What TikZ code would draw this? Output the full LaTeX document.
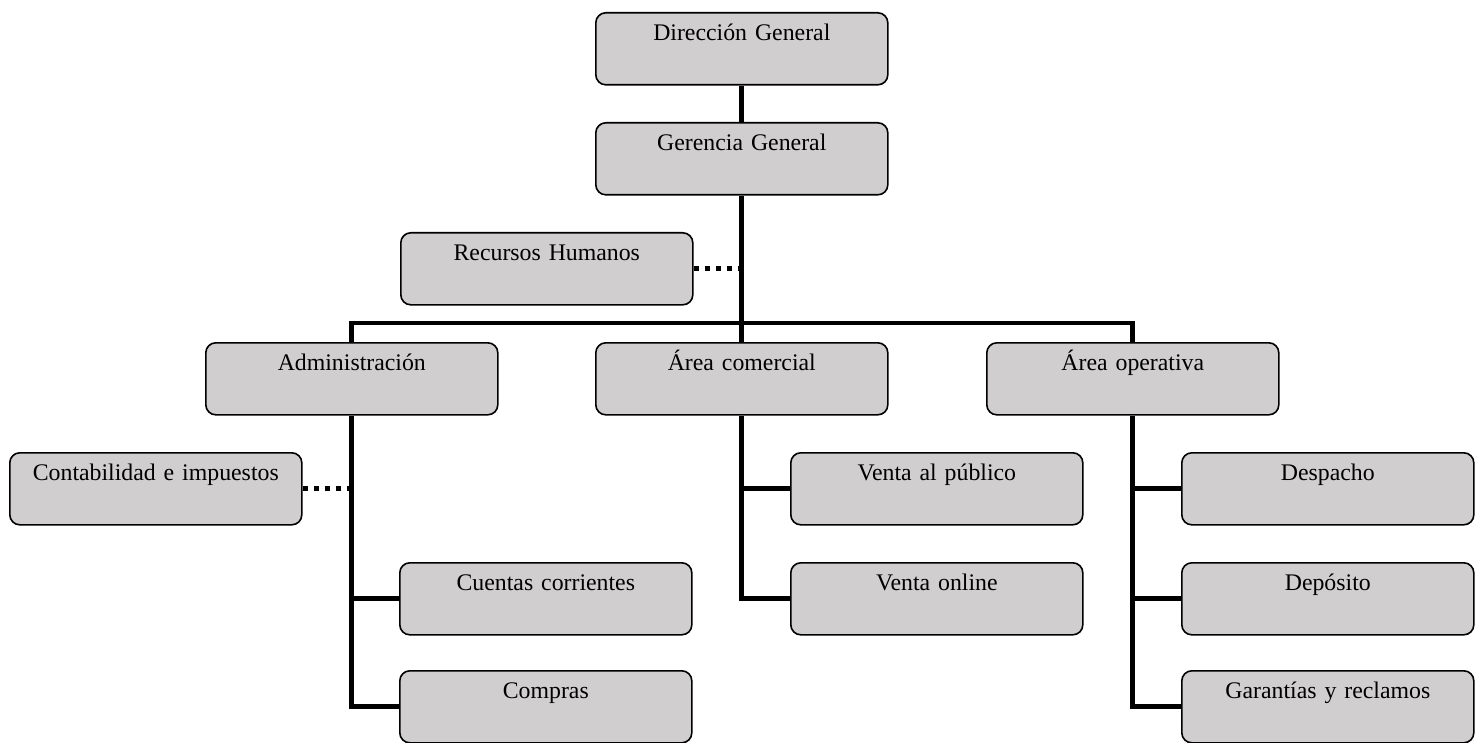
\documentclass[tikz,border=0pt]{standalone}
\usepackage{fontspec}
\setmainfont{Liberation Serif}
\usetikzlibrary{calc}
\begin{document}
\begin{tikzpicture}[x=1pt,y=-1pt,
  orgbox/.style={draw=black, line width=1.6pt, fill=boxgray, rounded corners=10pt,
    anchor=north west, inner sep=0pt, text width=292pt, align=center,
    text height=27.5pt, text depth=44.5pt, font=\fontsize{23.8}{28}\selectfont},
  conn/.style={line width=4.8pt, line join=miter, line cap=butt},
  dotconn/.style={line width=5pt, line cap=butt, dash pattern=on 5pt off 6pt}]
\definecolor{boxgray}{RGB}{208,206,207}
\useasboundingbox (0,0) rectangle (1482,743);
% boxes
\node[orgbox] (dir) at (595,12) {Dirección General};
\node[orgbox] (ger) at (595,122) {Gerencia General};
\node[orgbox] (rh) at (400,232) {Recursos Humanos};
\node[orgbox] (adm) at (205,342) {Administración};
\node[orgbox] (com) at (595,342) {Área comercial};
\node[orgbox] (ope) at (986,342) {Área operativa};
\node[orgbox] (cont) at (9,452) {Contabilidad e impuestos};
\node[orgbox] (cue) at (399,562) {Cuentas corrientes};
\node[orgbox] (comp) at (399,670) {Compras};
\node[orgbox] (vp) at (790,452) {Venta al público};
\node[orgbox] (vo) at (790,562) {Venta online};
\node[orgbox] (des) at (1181,452) {Despacho};
\node[orgbox] (dep) at (1181,562) {Depósito};
\node[orgbox] (gar) at (1181,670) {Garantías y reclamos};
% connectors
\coordinate (barL) at ($(adm.north)+(0,-19)$);
\draw[conn] (dir.south) -- (ger.north);
\draw[conn] (ger.south) -- (com.north);
\draw[conn] (adm.north) -- (barL) -| (ope.north);
\draw[conn] (adm.south) |- (comp.west);
\draw[conn] (cue.west) -- (cue.west -| adm.south);
\draw[conn] (com.south) |- (vo.west);
\draw[conn] (vp.west) -- (vp.west -| com.south);
\draw[conn] (ope.south) |- (gar.west);
\draw[conn] (des.west) -- (des.west -| ope.south);
\draw[conn] (dep.west) -- (dep.west -| ope.south);
\draw[dotconn] (rh.east) -- (rh.east -| ger.south);
\draw[dotconn] (cont.east) -- (cont.east -| adm.south);
\end{tikzpicture}
\end{document}
